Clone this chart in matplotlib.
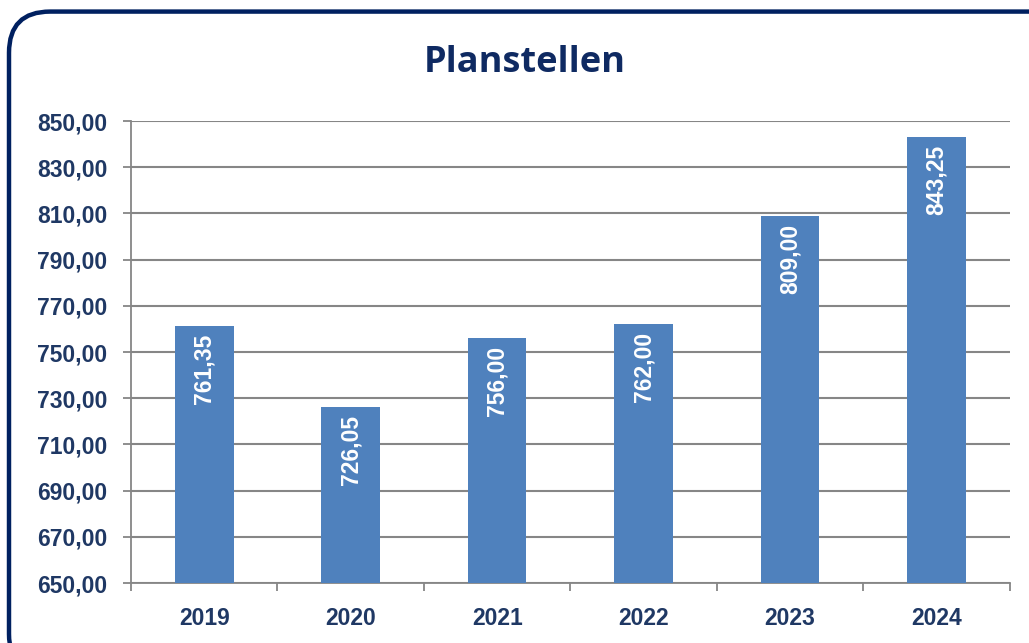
import matplotlib
matplotlib.use("Agg")
import matplotlib.pyplot as plt
from matplotlib.patches import FancyBboxPatch
import numpy as np

years = ["2019", "2020", "2021", "2022", "2023", "2024"]
stellen = [761.35, 726.05, 756.00, 762.00, 809.00, 843.25]
yticks = [650, 670, 690, 710, 730, 750, 770, 790, 810, 830, 850]

navy = "#1F3864"
title_col = "#0F2A62"
bar_col = "#4F81BD"

plt.rcParams['font.family'] = ['Liberation Sans', 'DejaVu Sans']

fig = plt.figure(figsize=(10.29, 6.43), dpi=100)
ax = fig.add_axes([0.1273, 0.0933, 0.854, 0.7185])

# rahmen
box = FancyBboxPatch((9 / 1029, -0.05), 1.1, 1.032, boxstyle="round,pad=0,rounding_size=0.04",
                     transform=fig.transFigure, fill=False, edgecolor="#002060", linewidth=3.2,
                     mutation_aspect=1029 / 643, clip_on=False)
fig.patches.append(box)

x = np.arange(len(years))
ax.bar(x, np.array(stellen) - 650, bottom=650, width=0.4, color=bar_col, zorder=3)

for xi, v in zip(x, stellen):
    ax.text(xi, v - 3.4, f"{v:.2f}".replace(".", ","), rotation=90, ha="center", va="top",
            color="white", fontsize=16.5, fontweight="bold", zorder=4)

ax.set_xlim(-0.5, len(years) - 0.5)
ax.set_ylim(650, 850)
ax.set_yticks(yticks)
ax.set_yticklabels([f"{t},00" for t in yticks], fontsize=16.5, fontweight="bold", color=navy)
ax.set_xticks(x)
ax.set_xticklabels(years, fontsize=16.5, fontweight="bold", color=navy)
ax.set_xticks(np.arange(len(years) + 1) - 0.5, minor=True)
ax.tick_params(axis="x", which="major", length=0, pad=17)
ax.tick_params(axis="x", which="minor", length=6, color="#868686", width=1.3)
ax.tick_params(axis="y", length=6, color="#868686", width=1.3, pad=11)

ax.grid(axis="y", color="#868686", linewidth=1.5, zorder=0)
for s in ["top", "right"]:
    ax.spines[s].set_visible(False)
for s in ["left", "bottom"]:
    ax.spines[s].set_color("#868686")
    ax.spines[s].set_linewidth(1.3)

fig.text(0.51, 0.902, "Planstellen", ha="center", va="center", fontsize=26,
         fontweight="bold", color=title_col, family=["Open Sans", "DejaVu Sans"])

fig.savefig("out.png", dpi=100)
